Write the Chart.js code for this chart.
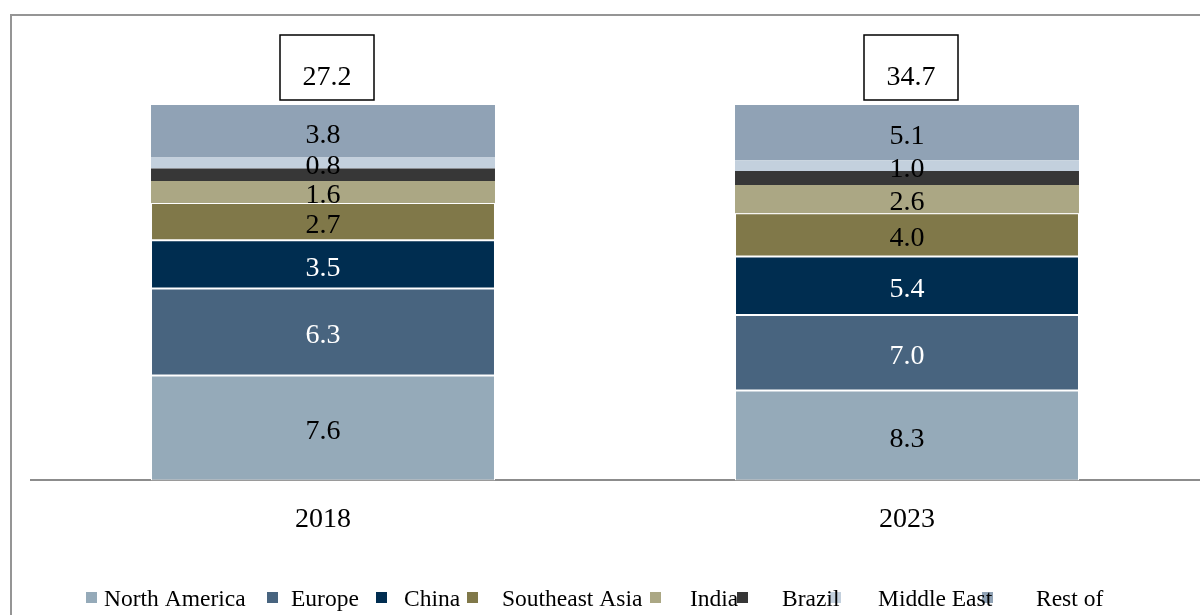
<!DOCTYPE html>
<html><head><meta charset="utf-8">
<script src="https://cdn.jsdelivr.net/npm/chart.js@4.4.0/dist/chart.umd.min.js"></script>
<style>html,body{margin:0;padding:0;background:#fff;}#wrap{width:1200px;height:615px;position:relative;overflow:hidden;}</style>
</head><body><div id="wrap"><canvas id="c" width="1200" height="615"></canvas></div>
<script>
// ---- data ----
const categories = ['2018', '2023'];
const seriesNames = ['North America', 'Europe', 'China', 'Southeast Asia', 'India', 'Brazil', 'Middle East', 'Rest of World'];
const northAmerica = [7.6, 8.3];
const europe = [6.3, 7.0];
const china = [3.5, 5.4];
const southeastAsia = [2.7, 4.0];
const india = [1.6, 2.6];
const brazil = [0.9, 1.3];
const middleEast = [0.8, 1.0];
const restOfWorld = [3.8, 5.1];
const totals = [27.2, 34.7];
const showValueLabel = [true, true, true, true, true, false, true, true];

// ---- styles ----
const seriesValues = [northAmerica, europe, china, southeastAsia, india, brazil, middleEast, restOfWorld];
const colors = ['#95AAB9', '#48647F', '#002D50', '#807849', '#ABA784', '#373737', '#C3D0DD', '#90A2B5'];
const labelColors = ['#000', '#fff', '#fff', '#000', '#000', '#000', '#000', '#000'];
const borderWidths = [1, 1, 1, 1, 0, 0, 0, 0];
const FONT = "'Liberation Serif', 'Times New Roman', serif";

// stacked to 100% per category (bars are equal height in the reference)
const sums = categories.map((_, i) => seriesValues.reduce((s, arr) => s + arr[i], 0));
const datasets = seriesNames.map((name, k) => ({
  label: name,
  data: seriesValues[k].map((v, i) => v / sums[i] * 100),
  rawValues: seriesValues[k],
  backgroundColor: colors[k],
  borderColor: '#ffffff',
  borderWidth: borderWidths[k],
  borderSkipped: false,
  categoryPercentage: 1.0,
  barPercentage: 0.589
}));

const framePlugin = {
  id: 'frame',
  beforeDraw(chart) {
    const ctx = chart.ctx;
    ctx.save();
    ctx.fillStyle = '#fff';
    ctx.fillRect(0, 0, chart.width, chart.height);
    ctx.strokeStyle = '#959595';
    ctx.lineWidth = 2;
    ctx.strokeRect(11, 15, 1400, 800);
    ctx.restore();
  }
};

const valueLabelPlugin = {
  id: 'valueLabels',
  afterDatasetsDraw(chart) {
    const ctx = chart.ctx;
    ctx.save();
    ctx.font = '28px ' + FONT;
    ctx.textAlign = 'center';
    ctx.textBaseline = 'middle';
    chart.data.datasets.forEach((ds, k) => {
      if (!showValueLabel[k]) return;
      const meta = chart.getDatasetMeta(k);
      meta.data.forEach((bar, i) => {
        const y = (bar.y + bar.base) / 2 + 4;
        ctx.fillStyle = labelColors[k];
        ctx.fillText(ds.rawValues[i].toFixed(1), bar.x, y);
      });
    });
    // total boxes
    const xs = chart.scales.x;
    categories.forEach((c, i) => {
      const x = xs.getPixelForValue(i) + 4;
      ctx.fillStyle = '#fff';
      ctx.fillRect(x - 47, 35, 94, 65);
      ctx.strokeStyle = '#000';
      ctx.lineWidth = 1.5;
      ctx.strokeRect(x - 47, 35, 94, 65);
      ctx.fillStyle = '#000';
      ctx.fillText(totals[i].toFixed(1), x, 78);
    });
    ctx.restore();
  }
};

const legendLayout = [
  { sx: 86, tx: 104 }, { sx: 267, tx: 291 }, { sx: 376, tx: 404 }, { sx: 467, tx: 502 },
  { sx: 650, tx: 690 }, { sx: 737, tx: 782 }, { sx: 830, tx: 878 }, { sx: 982, tx: 1036 }
];
const legendPlugin = {
  id: 'customLegend',
  afterDraw(chart) {
    const ctx = chart.ctx;
    ctx.save();
    chart.data.datasets.forEach((ds, k) => {
      ctx.fillStyle = colors[k];
      ctx.fillRect(legendLayout[k].sx, 592, 11, 11);
    });
    ctx.font = '23.5px ' + FONT;
    ctx.fillStyle = '#000';
    ctx.textAlign = 'left';
    ctx.textBaseline = 'alphabetic';
    chart.data.datasets.forEach((ds, k) => {
      const txt = ds.label;
      if (txt === 'Rest of World') {
        ctx.fillText('Rest of', legendLayout[k].tx, 606);
        ctx.fillText('World', legendLayout[k].tx, 633);
      } else {
        ctx.fillText(txt, legendLayout[k].tx, 606);
      }
    });
    ctx.restore();
  }
};

new Chart(document.getElementById('c'), {
  type: 'bar',
  data: { labels: categories, datasets },
  options: {
    responsive: false,
    animation: false,
    layout: { padding: { left: 31, right: 1, top: 105, bottom: 57 } },
    plugins: { legend: { display: false }, tooltip: { enabled: false } },
    scales: {
      x: {
        stacked: true,
        offset: true,
        grid: { display: false, drawTicks: false },
        border: { display: true, color: '#8c8c8c', width: 2 },
        ticks: { color: '#000', font: { family: FONT, size: 28 }, padding: 22 }
      },
      y: { stacked: true, display: false, min: 0, max: 100 }
    }
  },
  plugins: [framePlugin, valueLabelPlugin, legendPlugin]
});
</script>
</body></html>
